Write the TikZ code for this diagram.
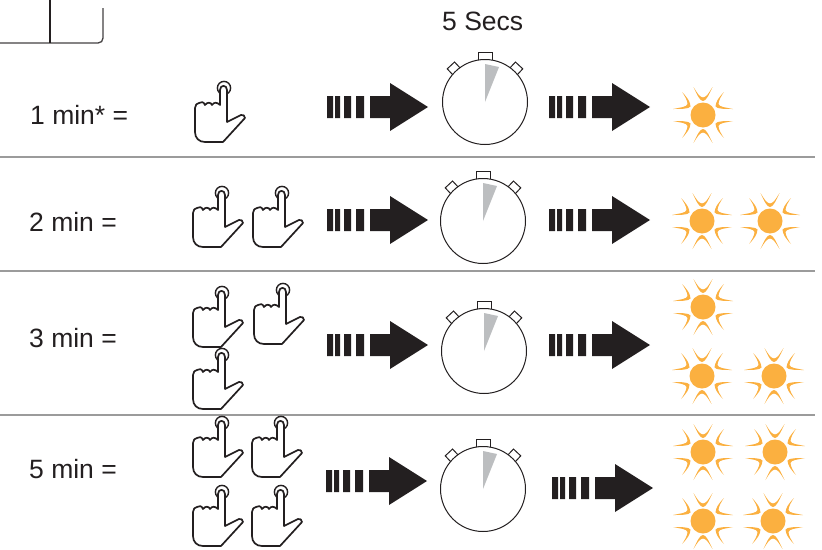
\documentclass[tikz,border=0pt]{standalone}
\usepackage{fontspec}
\setmainfont{Liberation Sans}
\definecolor{sunc}{HTML}{FBB040}
\definecolor{wedge}{HTML}{BCBEC0}
\definecolor{ink}{HTML}{231F20}
\definecolor{rule}{HTML}{9B9B9B}
\tikzset{
  x=1pt,y=-1pt,
  label/.style={font=\fontsize{26.5}{30}\selectfont,text=ink,inner sep=0pt,anchor=base west},
  rulerline/.style={draw=rule,line width=2.6pt},
  pics/hand/.style={code={
    \draw[ink,line width=1.4pt] (0,0) circle[radius=6.6];
    \draw[ink,line width=1.7pt,line join=round,fill=white]
      (-29,20) .. controls (-29,17) and (-27,15) .. (-25,15)
      .. controls (-23,13) and (-20,14) .. (-19,17)
      .. controls (-17,14) and (-13,14) .. (-12,17)
      .. controls (-10,14) and (-7,14) .. (-4,17)
      -- (-4,2) .. controls (-4,-3.5) and (3,-3.5) .. (3,2)
      -- (3,34) -- (17,27) .. controls (19,26) and (21,28) .. (21,30)
      -- (-1,54) -- (-19,54) .. controls (-25,54) and (-29,50) .. (-29,44) -- cycle;
  }},
  pics/watch/.style={code={
    \draw[ink,line width=1pt,fill=white] (-7,-50) rectangle (7,-42);
    \draw[ink,line width=1pt,fill=white,rotate=-43] (-5,-50) rectangle (5,-41);
    \draw[ink,line width=1pt,fill=white,rotate=43] (-5,-50) rectangle (5,-41);
    \draw[ink,line width=1pt,fill=white] (0,0) circle[radius=42.5];
    \fill[wedge] (0,0) -- (0,-38) -- (14,-35) -- cycle;
  }},
  pics/dasharrow/.style={code={
    \fill[ink] (0,-11) rectangle (6,11) (8,-11) rectangle (13,11)
      (17,-11) rectangle (24,11) (29,-11) rectangle (37,11);
    \fill[ink] (43,-11) -- (63,-11) -- (63,-24) -- (101,0) -- (63,24) -- (63,11) -- (43,11) -- cycle;
  }},
  pics/sun/.style={code={
    \fill[sunc] (0,0) circle[radius=12.5];
    \foreach \sx/\sy in {1/1,1/-1}{
      \fill[sunc,xscale=\sx,yscale=\sy]
        (-9.5,-28) .. controls (-6,-20) and (-3,-14) .. (0,-14)
        .. controls (3,-14) and (6,-20) .. (9.5,-28)
        .. controls (6,-22) and (3,-17.5) .. (0,-17.5)
        .. controls (-3,-17.5) and (-6,-22) .. cycle;
    }
    \foreach \sx/\sy in {1/1,-1/1,1/-1,-1/-1}{
      \fill[sunc,xscale=\sx,yscale=\sy]
        (-21,-23) .. controls (-16,-18) and (-12.5,-13) .. (-12.5,-8.5)
        .. controls (-14,-6) and (-22,-6) .. (-30,-6)
        .. controls (-23,-7.5) and (-16,-8) .. (-15.5,-11)
        .. controls (-15.5,-14) and (-18,-19) .. cycle;
    }
  }}
}
\begin{document}
\begin{tikzpicture}
\useasboundingbox (0,0) rectangle (822,549);
% top fragment
\draw[ink!85,line width=1.3pt] (0,43) -- (98,43) .. controls (101,43) and (103,41) .. (103,38) -- (103,8);
\draw[ink,line width=1.5pt] (50,0) -- (50,43);
% rules
\draw[rulerline] (0,157) -- (815,157);
\draw[rulerline] (0,271) -- (815,271);
\draw[rulerline] (0,415) -- (815,415);
% labels
\node[label] (title) at (442,30) {5 Secs};
\node[label] (r1) at (30,124) {1 min* =};
\node[label] (r2) at (29,231) {2 min =};
\node[label] (r3) at (29,347) {3 min =};
\node[label] (r4) at (29,478) {5 min =};
% hands
\pic at (224,88) {hand};
\pic at (222,193) {hand};
\pic at (282,193) {hand};
\pic at (222,293) {hand};
\pic at (283,290) {hand};
\pic at (222,355) {hand};
\pic at (222,423) {hand};
\pic at (281,423) {hand};
\pic at (222,492) {hand};
\pic at (281,492) {hand};
% arrows
\pic at (327,107) {dasharrow};
\pic at (549,107) {dasharrow};
\pic at (327,220) {dasharrow};
\pic at (549,220) {dasharrow};
\pic at (327,345) {dasharrow};
\pic at (549,345) {dasharrow};
\pic at (326,481) {dasharrow};
\pic at (552,488) {dasharrow};
% watches
\pic at (485,102) {watch};
\pic at (483,221) {watch};
\pic at (484,351) {watch};
\pic at (483,489) {watch};
% suns
\pic at (703,115) {sun};
\pic at (702,221) {sun};
\pic at (770,221) {sun};
\pic at (703,307) {sun};
\pic at (702,376) {sun};
\pic at (774,376) {sun};
\pic at (703,452) {sun};
\pic at (775,452) {sun};
\pic at (703,521) {sun};
\pic at (773,521) {sun};
\end{tikzpicture}
\end{document}
